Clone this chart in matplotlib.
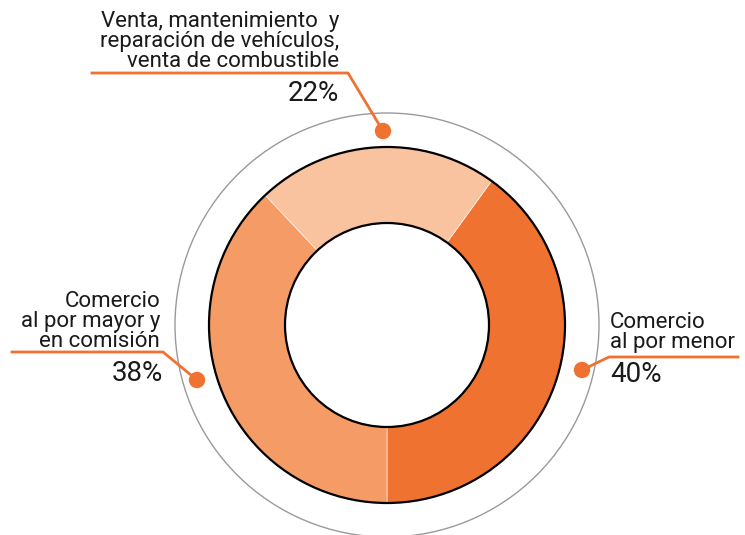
import matplotlib.pyplot as plt
from matplotlib.patches import Circle

# data
labels = ['Comercio\nal por menor',
          'Venta, mantenimiento  y\nreparación de vehículos,\nventa de combustible',
          'Comercio\nal por mayor y\nen comisión']
shares = [40, 22, 38]
pct_labels = ['40%', '22%', '38%']
colors = ['#F07230', '#FAC3A0', '#F59B65']
accent = '#F07230'

W, H = 745, 535


def Y(y):
    # work in pixel coords measured from the top of the picture
    return H - y


fig = plt.figure(figsize=(W / 100, H / 100), dpi=100)
ax = fig.add_axes([0, 0, 1, 1])

cx, cy = 387, 325
r_out, r_in, r_ring = 178, 102, 212

ax.pie(shares, colors=colors, startangle=270, counterclock=True,
       center=(cx, Y(cy)), radius=r_out,
       wedgeprops=dict(width=r_out - r_in, edgecolor='white', linewidth=0.4))

ax.add_patch(Circle((cx, Y(cy)), r_out, fill=False, ec='black', lw=1.6, zorder=3))
ax.add_patch(Circle((cx, Y(cy)), r_in, fill=False, ec='black', lw=1.6, zorder=3))
ax.add_patch(Circle((cx, Y(cy)), r_ring, fill=False, ec='#9a9a9a', lw=1.0, zorder=1))

font = dict(family=['Roboto', 'DejaVu Sans'], color='#1a1a1a')
lab_size, pct_size = 16, 20

# top label (22%)
ax.plot([92, 348, 383], [Y(73), Y(73), Y(131)], color=accent, lw=2, zorder=4)
ax.add_patch(Circle((383, Y(131)), 7.5, color=accent, zorder=5))
ax.text(339, Y(67), labels[1], ha='right', va='baseline', fontsize=lab_size,
        linespacing=0.93, **font)
ax.text(339, Y(101), pct_labels[1], ha='right', va='baseline', fontsize=pct_size, **font)

# left label (38%)
ax.plot([12, 163, 197], [Y(352), Y(352), Y(380)], color=accent, lw=2, zorder=4)
ax.add_patch(Circle((197, Y(380)), 7.5, color=accent, zorder=5))
ax.text(160, Y(347), labels[2], ha='right', va='baseline', fontsize=lab_size,
        linespacing=0.93, **font)
ax.text(163, Y(381), pct_labels[2], ha='right', va='baseline', fontsize=pct_size, **font)

# right label (40%)
ax.plot([738, 609, 582], [Y(357), Y(357), Y(370)], color=accent, lw=2, zorder=4)
ax.add_patch(Circle((582, Y(370)), 7.5, color=accent, zorder=5))
ax.text(610, Y(348), labels[0], ha='left', va='baseline', fontsize=lab_size,
        linespacing=0.93, **font)
ax.text(610, Y(382), pct_labels[0], ha='left', va='baseline', fontsize=pct_size, **font)

ax.set_xlim(0, W)
ax.set_ylim(0, H)
ax.set_aspect('equal')
ax.axis('off')

plt.savefig('out.png', dpi=100)
